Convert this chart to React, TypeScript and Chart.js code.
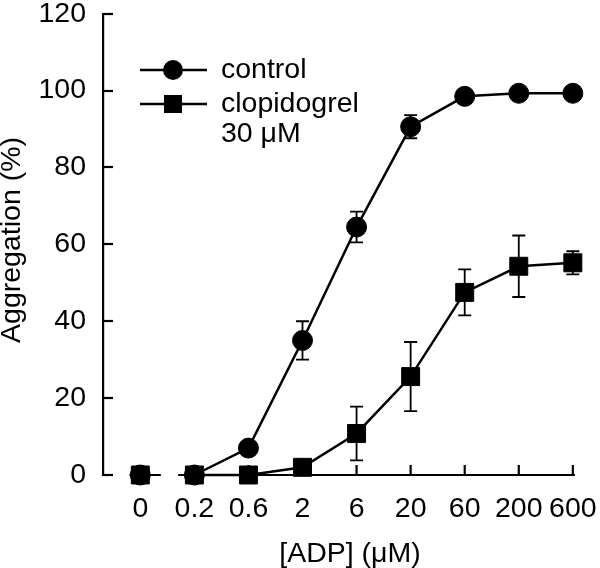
import React, { useEffect, useRef } from 'react';
import { Chart, registerables } from 'chart.js';

Chart.register(...registerables);

const xLabels = ['0', '0.2', '0.6', '2', '6', '20', '60', '200', '600'];
const controlValues = [0, 0, 7, 35, 64.5, 90.6, 98.5, 99.3, 99.3];
const controlErrors = [0, 0, 0, 5, 4, 3, 0, 0, 0];
const clopValues = [0, 0, 0, 2, 10.8, 25.6, 47.5, 54.3, 55.2];
const clopErrors = [0, 0, 0, 0, 7, 9, 6, 8, 3];
const yTicks = [0, 20, 40, 60, 80, 100, 120];
const seriesLabels = [['control'], ['clopidogrel', '30 μM']];
const xTitle = '[ADP] (μM)';
const yTitle = 'Aggregation (%)';

const FONT = '"Liberation Sans", Arial, Helvetica, sans-serif';
const FS = 28.5;

const toPoints = (vals: number[]) => vals.map((v, i) => ({ x: i, y: v }));

const errorBarPlugin = {
  id: 'errorBars',
  beforeDatasetsDraw(chart: any) {
    const ctx = chart.ctx;
    const xs = chart.scales.x;
    const ys = chart.scales.y;
    const errs = [controlErrors, clopErrors];
    ctx.save();
    ctx.strokeStyle = '#000';
    ctx.lineWidth = 1.8;
    chart.data.datasets.forEach((ds: any, di: number) => {
      ds.data.forEach((p: any, i: number) => {
        const e = errs[di][i];
        if (!e) return;
        const px = xs.getPixelForValue(p.x);
        const top = ys.getPixelForValue(p.y + e);
        const bot = ys.getPixelForValue(p.y - e);
        ctx.beginPath();
        ctx.moveTo(px, top);
        ctx.lineTo(px, bot);
        ctx.moveTo(px - 6.5, top);
        ctx.lineTo(px + 6.5, top);
        ctx.moveTo(px - 6.5, bot);
        ctx.lineTo(px + 6.5, bot);
        ctx.stroke();
      });
    });
    ctx.restore();
  },
};

const axesPlugin = {
  id: 'customAxes',
  beforeDatasetsDraw(chart: any) {
    const ctx = chart.ctx;
    const xs = chart.scales.x;
    const ys = chart.scales.y;
    const { left, right, bottom } = chart.chartArea;
    ctx.save();
    ctx.strokeStyle = '#000';
    ctx.lineWidth = 2.2;
    yTicks.forEach((t) => {
      const py = Math.round(ys.getPixelForValue(t));
      ctx.beginPath();
      ctx.moveTo(left, py);
      ctx.lineTo(left + 10, py);
      ctx.stroke();
    });
    ctx.beginPath();
    ctx.moveTo(xs.getPixelForValue(-0.2), bottom);
    ctx.lineTo(xs.getPixelForValue(0.38), bottom);
    ctx.moveTo(xs.getPixelForValue(0.7), bottom);
    ctx.lineTo(right, bottom);
    ctx.stroke();
    xLabels.forEach((_, i) => {
      if (i === 0) return;
      const px = xs.getPixelForValue(i);
      ctx.beginPath();
      ctx.moveTo(px, bottom);
      ctx.lineTo(px, bottom - 10);
      ctx.stroke();
    });
    ctx.restore();
  },
  afterDraw(chart: any) {
    const ctx = chart.ctx;
    const { left } = chart.chartArea;
    ctx.save();
    ctx.fillStyle = '#000';
    ctx.font = `${FS}px ${FONT}`;
    ctx.textAlign = 'center';
    ctx.textBaseline = 'alphabetic';
    ctx.fillText(xTitle, 350, 562);
    ctx.save();
    ctx.translate(20, 240);
    ctx.rotate(-Math.PI / 2);
    ctx.fillText(yTitle, 0, 0);
    ctx.restore();
    const rows = [70, 104];
    chart.data.datasets.forEach((ds: any, di: number) => {
      const cy = rows[di];
      ctx.strokeStyle = '#000';
      ctx.lineWidth = 2.5;
      ctx.beginPath();
      ctx.moveTo(left + 37, cy);
      ctx.lineTo(left + 104, cy);
      ctx.stroke();
      ctx.fillStyle = '#000';
      if (di === 0) {
        ctx.beginPath();
        ctx.arc(left + 70, cy, 10, 0, Math.PI * 2);
        ctx.fill();
      } else {
        ctx.fillRect(left + 61, cy - 9, 18, 18);
      }
      ctx.textAlign = 'left';
      ctx.textBaseline = 'middle';
      seriesLabels[di].forEach((line, li) => {
        ctx.fillText(line, left + 118, cy + li * 30);
      });
    });
    ctx.restore();
  },
};

export default function App() {
  const ref = useRef<HTMLCanvasElement>(null);
  useEffect(() => {
    document.body.style.margin = '0';
    const canvas = ref.current!;
    const skipFirst = (c: any) => (c.p0DataIndex === 0 ? 'rgba(0,0,0,0)' : '#000');
    const chart = new Chart(canvas, {
      type: 'line',
      data: {
        datasets: [
          {
            label: seriesLabels[0].join(' '),
            data: toPoints(controlValues),
            borderColor: '#000',
            borderWidth: 2.5,
            backgroundColor: '#000',
            pointBackgroundColor: '#000',
            pointBorderColor: '#000',
            pointBorderWidth: 1,
            pointStyle: 'circle',
            pointRadius: 10,
            clip: false,
            segment: { borderColor: skipFirst },
          },
          {
            label: seriesLabels[1].join(' '),
            data: toPoints(clopValues),
            borderColor: '#000',
            borderWidth: 2.5,
            backgroundColor: '#000',
            pointBackgroundColor: '#000',
            pointBorderColor: '#000',
            pointBorderWidth: 1,
            pointStyle: 'rect',
            pointRadius: 12.7,
            clip: false,
            segment: { borderColor: skipFirst },
          },
        ],
      },
      options: {
        animation: false,
        responsive: false,
        devicePixelRatio: 1,
        layout: { padding: { top: 12, right: 25, left: 0, bottom: 0 } },
        plugins: { legend: { display: false }, tooltip: { enabled: false } },
        scales: {
          x: {
            type: 'linear',
            min: -0.69,
            max: 8.04,
            grid: { display: false, drawTicks: false },
            border: { display: false },
            ticks: {
              stepSize: 1,
              includeBounds: false,
              autoSkip: false,
              maxRotation: 0,
              padding: 17,
              color: '#000',
              font: { family: FONT, size: FS },
              callback: (v: any) => (Number.isInteger(v) ? xLabels[v] ?? '' : ''),
            },
            afterFit: (s: any) => {
              s.height = 93;
              s.paddingLeft = 0;
              s.paddingRight = 0;
            },
          },
          y: {
            min: 0,
            max: 120,
            grid: { display: false, drawTicks: false },
            border: { display: true, color: '#000', width: 2.2 },
            ticks: {
              stepSize: 20,
              padding: 17,
              color: '#000',
              font: { family: FONT, size: FS },
            },
            afterFit: (s: any) => {
              s.width = 103;
              s.paddingTop = 0;
              s.paddingBottom = 0;
            },
          },
        },
      },
      plugins: [errorBarPlugin, axesPlugin],
    });
    return () => chart.destroy();
  }, []);
  return <canvas ref={ref} width={600} height={568} style={{ display: 'block' }} />;
}
